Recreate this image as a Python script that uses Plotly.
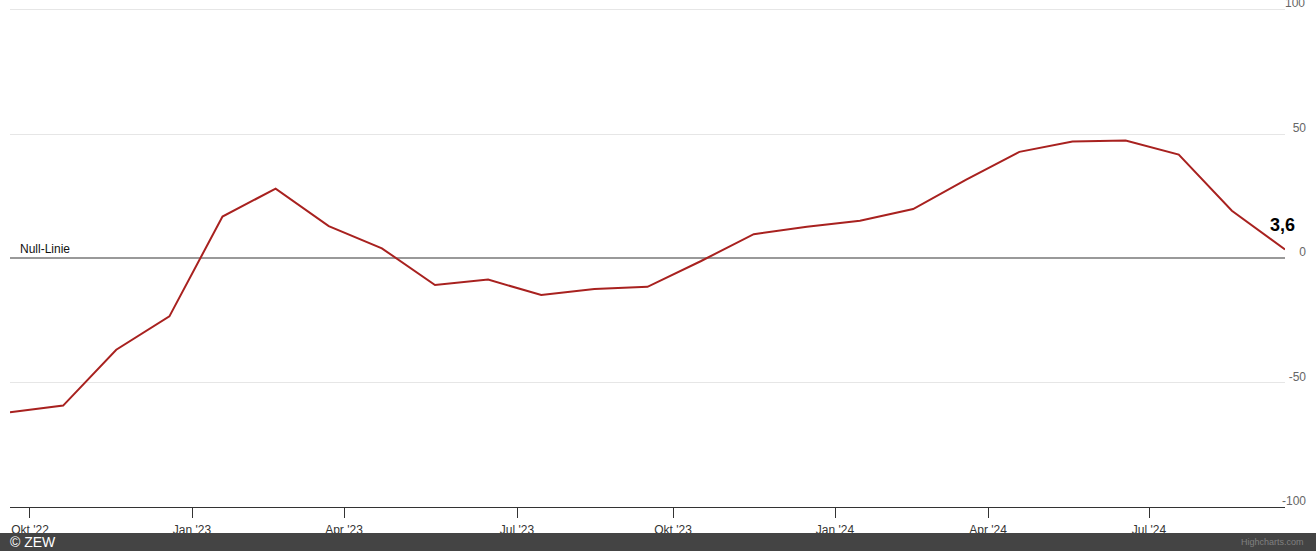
"""ZEW Konjunkturerwartungen: line chart with zero reference line."""

import plotly.graph_objects as go

MONTHS = [
    "Sep 2022", "Okt 2022", "Nov 2022", "Dez 2022",
    "Jan 2023", "Feb 2023", "Mär 2023", "Apr 2023", "Mai 2023", "Jun 2023",
    "Jul 2023", "Aug 2023", "Sep 2023", "Okt 2023", "Nov 2023", "Dez 2023",
    "Jan 2024", "Feb 2024", "Mär 2024", "Apr 2024", "Mai 2024", "Jun 2024",
    "Jul 2024", "Aug 2024", "Sep 2024",
]
VALUES = [
    -61.9, -59.2, -36.7, -23.3,
    16.9, 28.1, 13.0, 4.1, -10.7, -8.5,
    -14.7, -12.3, -11.4, -1.1, 9.8, 12.8,
    15.2, 19.9, 31.7, 42.9, 47.1, 47.5,
    41.8, 19.2, 3.6,
]
# month starts, as positions between the (evenly spaced) release points
TICK_POS = [0.376, 3.426, 6.287, 9.544, 12.48, 15.53, 18.41, 21.44]
TICK_TEXT = ["Okt '22", "Jan '23", "Apr '23", "Jul '23", "Okt '23", "Jan '24", "Apr '24", "Jul '24"]
Y_TICKS = [-100, -50, 0, 50, 100]
Y_TICK_TEXT = ["-100", "-50", "0", "50", "100"]

_FONT = "Liberation Sans, Arial, sans-serif"
_LINE = "#a8211f"

x = list(range(len(VALUES)))

fig = go.Figure(
    go.Scatter(
        x=x,
        y=VALUES,
        customdata=MONTHS,
        mode="lines",
        line={"color": _LINE, "width": 2},
        hovertemplate="%{customdata}: %{y}<extra></extra>",
    )
)

fig.add_annotation(
    x=0, y=0, xref="x", yref="y", text="Null-Linie",
    showarrow=False, xanchor="left", yanchor="bottom", xshift=8, yshift=0,
    font={"family": _FONT, "size": 12, "color": "#111"},
)
fig.add_annotation(
    x=x[-1], y=VALUES[-1], xref="x", yref="y",
    text=f"<b>{VALUES[-1]:.1f}</b>".replace(".", ","),
    showarrow=False, xanchor="center", yanchor="bottom", xshift=-3, yshift=13,
    font={"family": _FONT, "size": 18, "color": "#000"},
)
# plotly drops the top tick label because it pokes above the window; draw it by hand
fig.add_annotation(
    x=1.0, y=Y_TICKS[-1], xref="paper", yref="y", text=Y_TICK_TEXT[-1],
    showarrow=False, xanchor="right", yanchor="middle", yshift=7, xshift=1,
    font={"family": _FONT, "size": 12, "color": "#666"},
)

# footer bar (paper y: 0 = x axis line at 507px, 1 = top of window)
_PH = 507.0
fig.add_shape(
    type="rect", xref="paper", yref="paper",
    x0=-0.05, x1=1.05, y0=-(551 - 507) / _PH, y1=-(533 - 507) / _PH,
    fillcolor="#444444", line_width=0, layer="above",
)
fig.add_annotation(
    x=0, y=-(542 - 507) / _PH, xref="paper", yref="paper", text="© ZEW",
    showarrow=False, xanchor="left", yanchor="middle", xshift=-2,
    font={"family": _FONT, "size": 14, "color": "#ffffff"},
)
fig.add_annotation(
    x=1.0, y=-(542 - 507) / _PH, xref="paper", yref="paper", text="Highcharts.com",
    showarrow=False, xanchor="right", yanchor="middle",
    font={"family": _FONT, "size": 9, "color": "#808080"},
)

fig.update_layout(
    width=1316,
    height=551,
    margin={"l": 10, "r": 10, "t": 0, "b": 44},
    paper_bgcolor="white",
    plot_bgcolor="white",
    showlegend=False,
    font={"family": _FONT, "size": 12, "color": "#333"},
    xaxis={
        "domain": [0, 1275 / 1296],
        "range": [0, len(VALUES) - 1],
        "tickvals": TICK_POS,
        "ticktext": TICK_TEXT,
        "automargin": False,
        "showgrid": False,
        "zeroline": False,
        "showline": True,
        "linecolor": "#333",
        "linewidth": 1,
        "ticks": "outside",
        "ticklen": 10,
        "tickcolor": "#333",
        "ticklabelstandoff": 2,
        "tickfont": {"family": _FONT, "size": 12, "color": "#333"},
    },
    yaxis={
        "range": [-100, 104.02],
        "tickvals": Y_TICKS,
        "ticktext": Y_TICK_TEXT,
        "anchor": "free",
        "position": 1.0,
        "side": "left",
        "automargin": False,
        "ticklabelposition": "outside top",
        "ticklabelshift": 2,
        "ticks": "",
        "showline": False,
        "showgrid": True,
        "gridcolor": "#e6e6e6",
        "gridwidth": 1,
        "zeroline": True,
        "zerolinecolor": "#999999",
        "zerolinewidth": 2,
        "tickfont": {"family": _FONT, "size": 12, "color": "#666"},
    },
)

# page has a default 8px body margin; drop it so the figure fills the window
fig.write_html(
    "out.html",
    config={"displayModeBar": False},
    post_script="document.body.style.margin = '0';",
)
